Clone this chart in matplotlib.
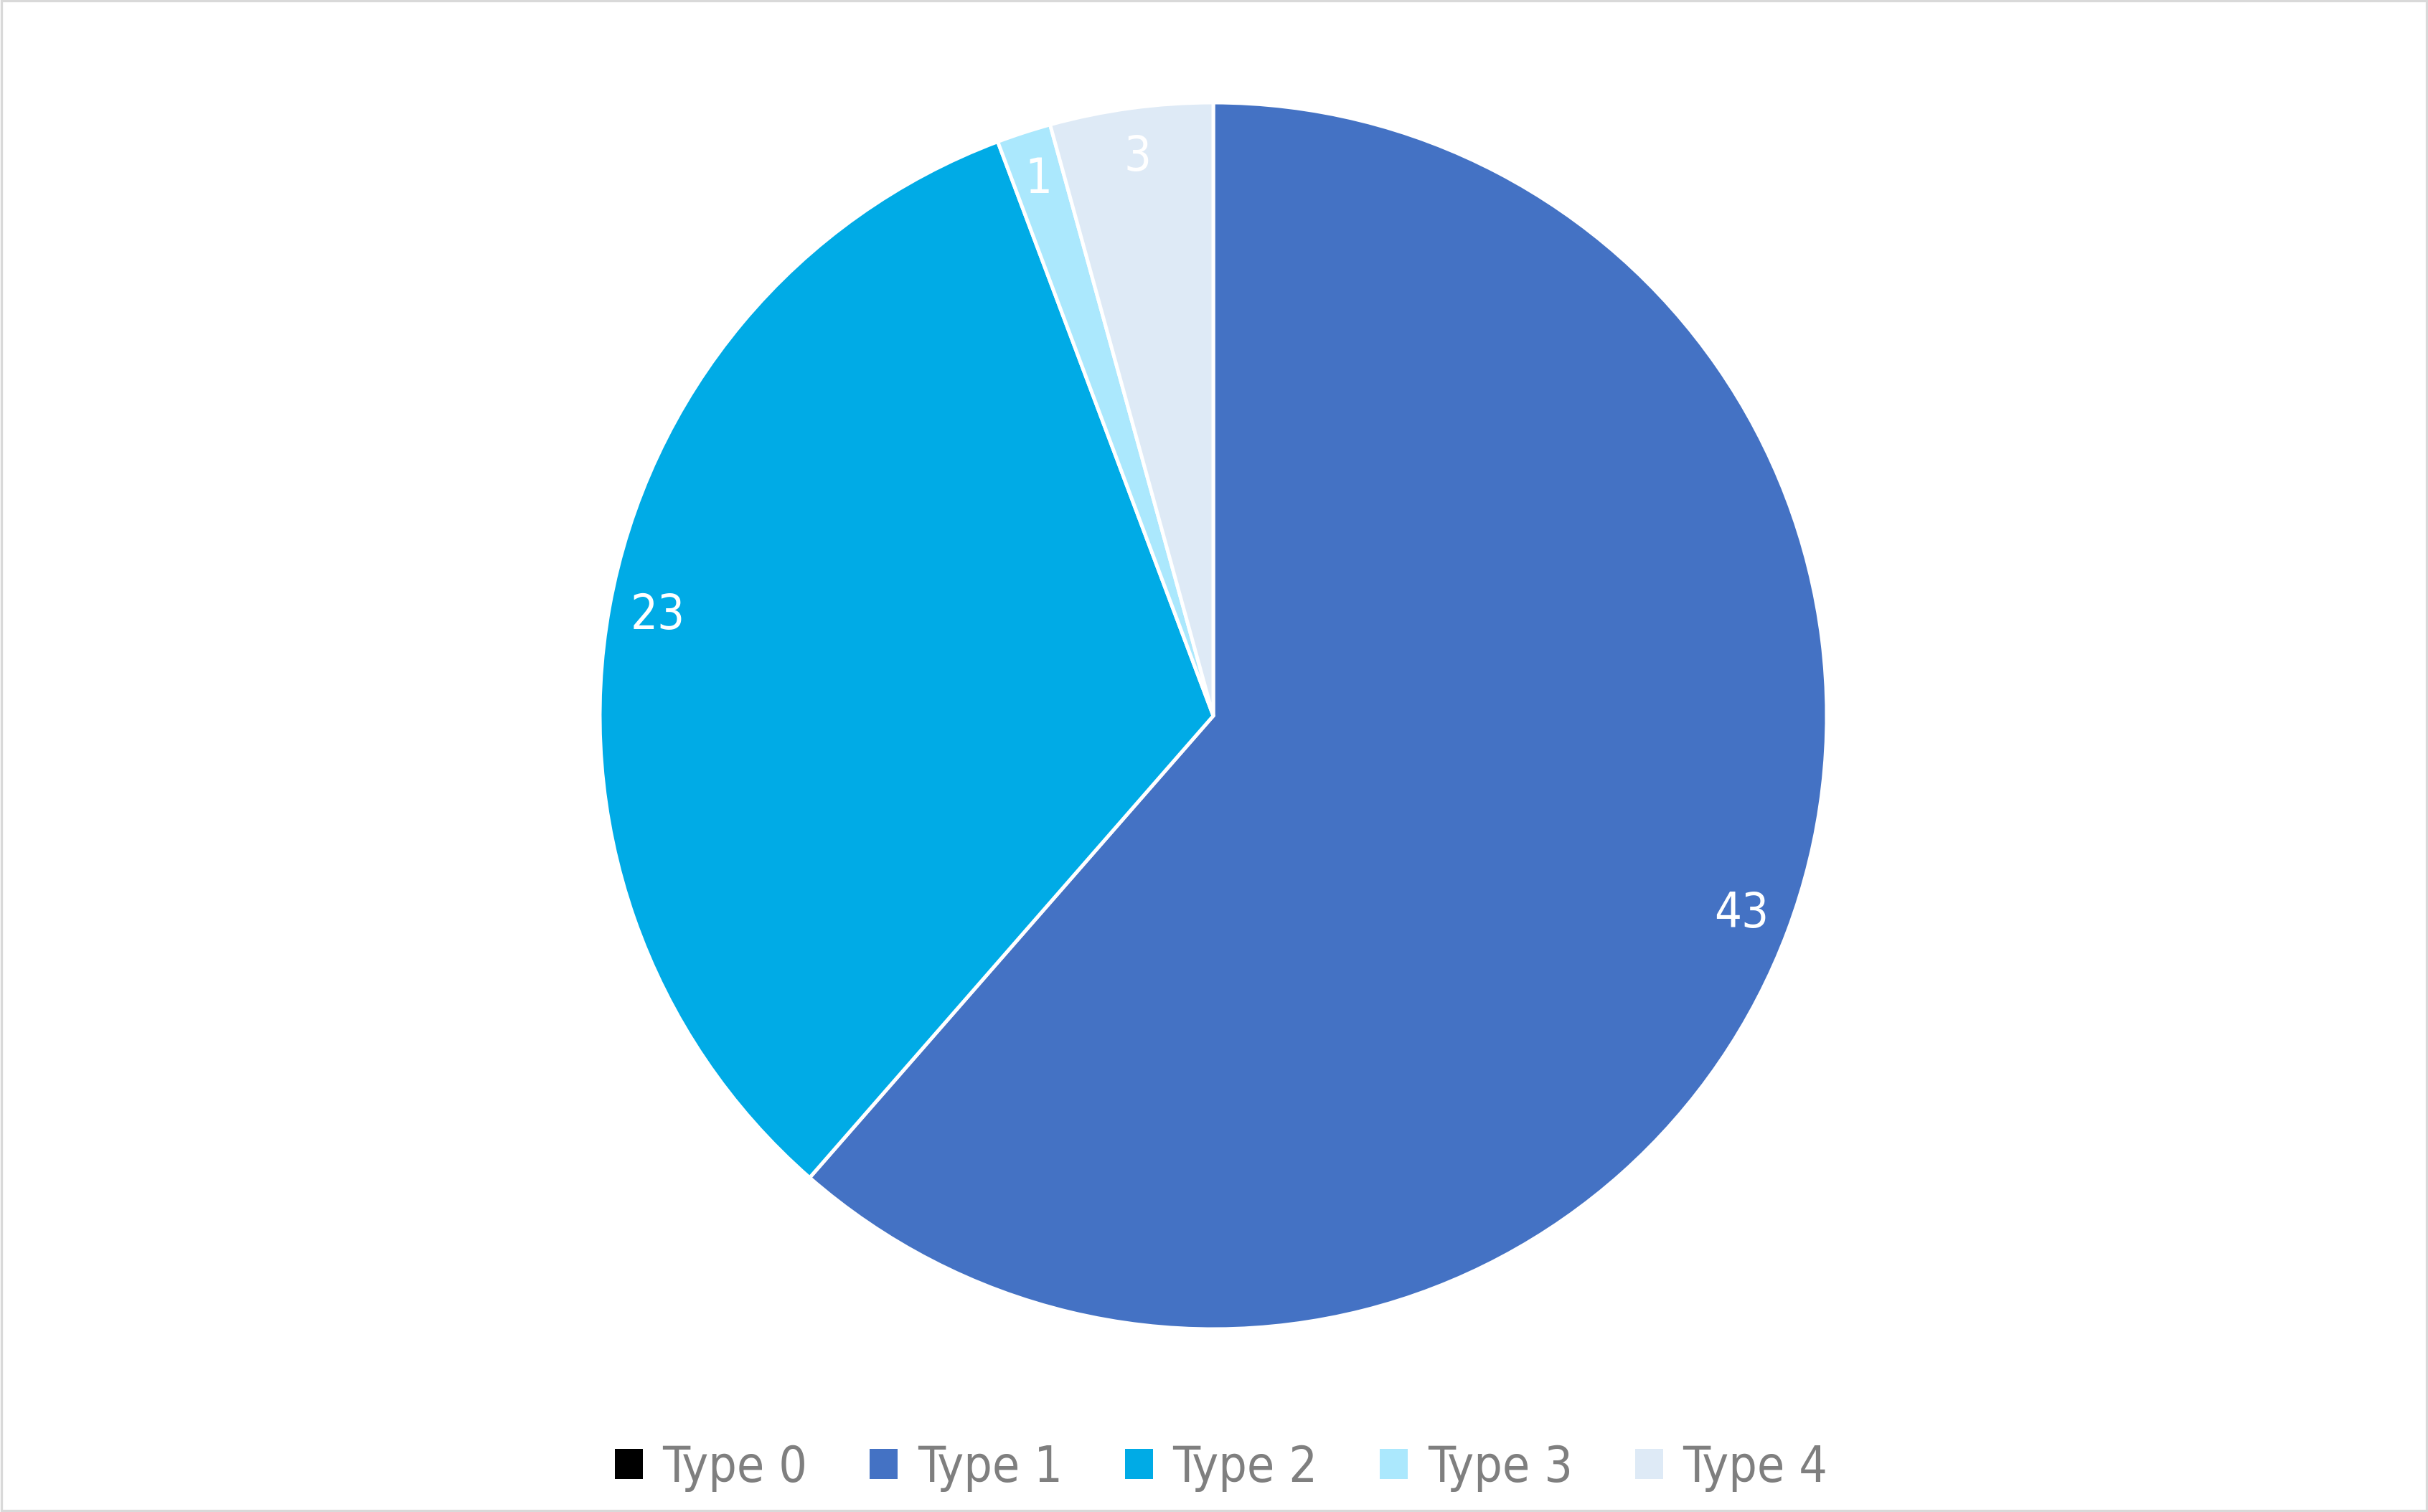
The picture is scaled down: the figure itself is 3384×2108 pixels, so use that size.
import matplotlib.pyplot as plt
from matplotlib.patches import Patch, Rectangle

# Data
categories = ['Type 0', 'Type 1', 'Type 2', 'Type 3', 'Type 4']
counts = [0, 43, 23, 1, 3]
colors = ['#000000', '#4472C4', '#00ABE6', '#ABE8FD', '#DEEAF6']

plt.rcParams['font.family'] = ['DejaVu Sans']
plt.rcParams['font.stretch'] = 'condensed'

W, H = 3384, 2108
dpi = 200
fig = plt.figure(figsize=(W / dpi, H / dpi), dpi=dpi)

# pie centre and radius in pixels
cx, cy, r = 1691, 998, 855
ax = fig.add_axes([(cx - r) / W, (H - cy - r) / H, 2 * r / W, 2 * r / H])

total = sum(counts)


def fmt(pct):
    v = round(pct * total / 100)
    return '' if v == 0 else str(v)


wedges, texts, autotexts = ax.pie(
    counts, colors=colors, startangle=90, counterclock=False,
    autopct=fmt, pctdistance=0.92, radius=1,
    wedgeprops=dict(edgecolor='white', linewidth=1.8),
    textprops=dict(color='white', fontsize=24))
ax.set_xlim(-1, 1)
ax.set_ylim(-1, 1)
ax.set_aspect('equal')
ax.axis('off')

handles = [Patch(facecolor=c, edgecolor='none') for c in colors]
leg = fig.legend(handles, categories, loc='center', ncol=5, frameon=False,
                 bbox_to_anchor=(0.503, 1 - 2046 / H),
                 fontsize=25, handlelength=0.56, handleheight=0.56,
                 handletextpad=0.4, columnspacing=1.25)
for t in leg.get_texts():
    t.set_color('#7F7F7F')

# outer chart border
fig.patches.append(Rectangle((0.0005, 0.0008), 0.999, 0.9985, transform=fig.transFigure,
                             fill=False, edgecolor='#D9D9D9', linewidth=1.2))

fig.savefig('out.png', dpi=dpi)
